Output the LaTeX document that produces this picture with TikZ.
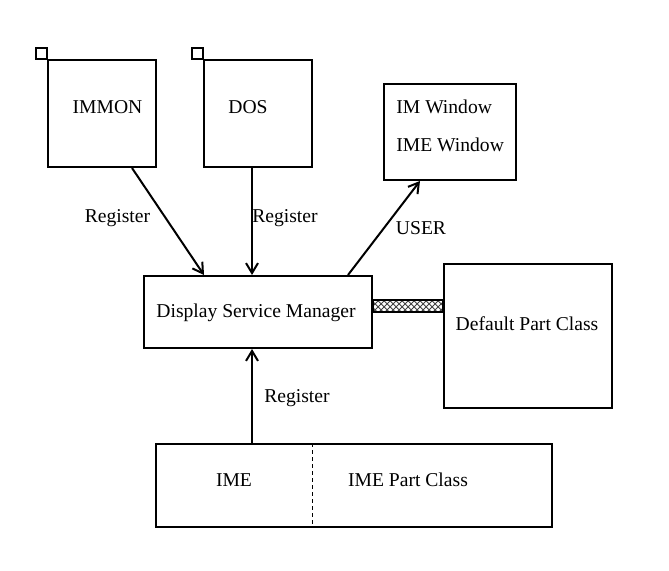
\documentclass[tikz,border=0pt]{standalone}
\usepackage{fontspec}
\setmainfont{Liberation Serif}
\usetikzlibrary{arrows.meta,patterns}

\begin{document}
\begin{tikzpicture}[
    x=0.5pt, y=-0.5pt,
    box/.style={rectangle, draw, line width=1pt, inner sep=0pt, font=\fontsize{9.8}{12}\selectfont},
    lbl/.style={inner sep=0pt, anchor=base, font=\fontsize{9.8}{12}\selectfont},
    link/.style={-{Straight Barb[length=5pt,width=6pt,line width=1pt]}, line width=1pt}
]
\useasboundingbox (0,0) rectangle (669,571);

% Client boxes
\node[box, minimum width=54pt, minimum height=53.5pt] (immon) at (102,113.5) {};
\node[box, minimum width=54pt, minimum height=53.5pt] (dos) at (258,113.5) {};
\draw[line width=1pt] (36,48) rectangle (immon.north west);
\draw[line width=1pt] (192,48) rectangle (dos.north west);
\node[lbl] at (107.5,114) {IMMON};
\node[lbl] at (248,114) {DOS};

% Window box
\node[box, minimum width=66pt, minimum height=48pt] (imwin) at (450,132) {};
\node[lbl, anchor=base west] at (396,114) {IM Window};
\node[lbl, anchor=base west] at (396,152) {IME Window};

% Manager and part class
\node[box, minimum width=114pt, minimum height=36pt] (dsm) at (258,312) {};
\node[lbl] at (256,318) {Display Service Manager};
\node[box, minimum width=84pt, minimum height=72pt] (dpc) at (528,336) {};
\node[lbl] at (527,331) {Default Part Class};
\draw[line width=0.6pt, pattern=crosshatch, pattern color=black!75] ([yshift=6pt]dsm.east) rectangle (dpc.west |- dsm.east);

% IME box
\node[box, minimum width=198pt, minimum height=41.5pt] (ime) at (354,485.5) {};
\draw[line width=0.5pt, dash pattern=on 2pt off 1.5pt] ([xshift=-21pt]ime.north) -- ([xshift=-21pt]ime.south);
\node[lbl] at (234,487) {IME};
\node[lbl] at (408,487) {IME Part Class};

% Arrows
\draw[link] ([xshift=15pt]immon.south) -- ([xshift=-27pt]dsm.north);
\draw[link] ([xshift=-3pt]dos.south) -- ([xshift=-3pt]dsm.north);
\draw[link] ([xshift=45pt]dsm.north) -- ([xshift=-15pt]imwin.south);
\draw[link] ([xshift=-51pt]ime.north) -- ([xshift=-3pt]dsm.south);

% Arrow labels
\node[lbl] at (117.5,223) {Register};
\node[lbl] at (285,223) {Register};
\node[lbl] at (421,235) {USER};
\node[lbl] at (297,403) {Register};
\end{tikzpicture}
\end{document}
